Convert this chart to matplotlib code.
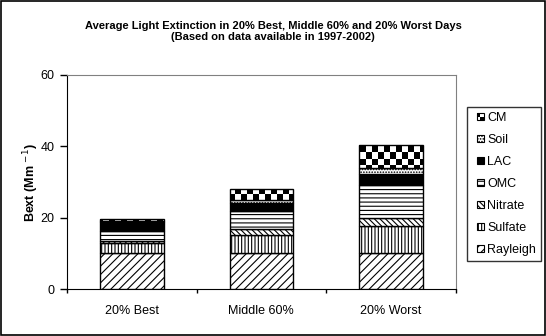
import numpy as np
import matplotlib
matplotlib.use("Agg")
import matplotlib.pyplot as plt
from matplotlib.patches import Patch, Rectangle
from matplotlib.legend_handler import HandlerBase


# ======================================
# DATA
# ======================================

categories = ["20% Best", "Middle 60%", "20% Worst"]

rayleigh = [10.3, 10.3, 10.3]
sulfate = [2.8, 4.95, 7.45]
nitrate = [0.5, 1.6, 2.25]
omc = [2.8, 5.2, 9.25]
lac = [2.5, 2.25, 3.0]
soil = [0.2, 0.75, 1.85]
cm = [0.7, 3.1, 6.25]

y_ticks = [0, 20, 40, 60]


# ======================================
# STYLE
# ======================================

plt.rcParams["font.family"] = ["Liberation Sans", "DejaVu Sans"]
plt.rcParams["hatch.linewidth"] = 0.8
plt.rcParams["hatch.color"] = "black"

# name, values, hatch, face colour (hatch None = checkerboard)
species = [
    ("Rayleigh", rayleigh, "////", "white"),
    ("Sulfate", sulfate, "|||||", "white"),
    ("Nitrate", nitrate, "\\\\\\\\\\\\", "white"),
    ("OMC", omc, "----", "white"),
    ("LAC", lac, "", "black"),
    ("Soil", soil, "......", "white"),
    ("CM", cm, None, "white"),
]


# ======================================
# PLOT
# ======================================

fig = plt.figure(figsize=(5.46, 3.36), dpi=100)
ax = fig.add_axes([0.1227, 0.139, 0.7119, 0.6378])

x = np.arange(len(categories))
bottom = np.zeros(len(categories))
cm_bars = None

for name, values, hatch, face in species:
    if hatch is None:
        cm_bars = ax.bar(x, values, width=0.49, bottom=bottom,
                         facecolor="none", edgecolor="black",
                         linewidth=1, zorder=4)
    else:
        ax.bar(x, values, width=0.49, bottom=bottom,
               facecolor=face, edgecolor="black", hatch=hatch,
               linewidth=1, zorder=3)
    bottom += np.array(values)

# checkerboard fill for CM, clipped to each bar
ny, nx = 36, 65
checker = (np.add.outer(np.arange(ny), np.arange(nx)) % 2).astype(float)
for bar in cm_bars:
    img = ax.imshow(checker, cmap="gray_r", extent=[-0.5, 2.5, 0, 60],
                    interpolation="nearest", aspect="auto", zorder=3,
                    vmin=0, vmax=1)
    img.set_clip_path(bar)

ax.set_xlim(-0.5, 2.5)
ax.set_ylim(0, 60)

ax.set_yticks(y_ticks)
ax.tick_params(axis="y", direction="out", length=5, width=1,
               labelsize=9, pad=4)

ax.set_xticks([-0.5, 0.5, 1.5, 2.5])
ax.set_xticklabels([])
ax.set_xticks(x, minor=True)
ax.set_xticklabels(categories, minor=True)
ax.tick_params(axis="x", which="major", direction="out", length=3, width=1)
ax.tick_params(axis="x", which="minor", length=0, labelsize=9, pad=11)

ax.spines["top"].set_color("#808080")
ax.spines["right"].set_color("#808080")

ax.set_ylabel(r"Bext (Mm $^{-1}$)", fontsize=9, fontweight="bold")
ax.yaxis.set_label_coords(-0.067, 0.5)

fig.text(0.5, 0.905,
         "Average Light Extinction in 20% Best, Middle 60% and 20% Worst Days\n"
         "(Based on data available in 1997-2002)",
         ha="center", va="center", fontsize=8, fontweight="bold",
         linespacing=1.12)


# ======================================
# LEGEND
# ======================================

class HandlerSquare(HandlerBase):
    # small square sitting at the right end of the handle box
    def create_artists(self, legend, orig_handle, xdescent, ydescent,
                       width, height, fontsize, trans):
        size = 7 * 72 / 100
        x0 = -xdescent + width - size
        y0 = -ydescent + (height - size) / 2
        hatch = orig_handle.get_hatch()
        face = orig_handle.get_facecolor()
        box = Rectangle((x0, y0), size, size, facecolor=face,
                        edgecolor="black", linewidth=0.8, hatch=hatch,
                        transform=trans)
        artists = [box]
        if orig_handle.get_label() == "checker":
            artists.append(Rectangle((x0, y0 + size / 2), size / 2, size / 2,
                                     facecolor="black", linewidth=0,
                                     transform=trans))
            artists.append(Rectangle((x0 + size / 2, y0), size / 2, size / 2,
                                     facecolor="black", linewidth=0,
                                     transform=trans))
        return artists


handles = []
labels = []
for name, values, hatch, face in reversed(species):
    if hatch is None:
        handles.append(Patch(facecolor="white", edgecolor="black",
                             label="checker"))
    else:
        handles.append(Patch(facecolor=face, edgecolor="black",
                             hatch=hatch))
    labels.append(name)

leg = fig.legend(handles, labels, loc="upper left",
                 bbox_to_anchor=(0.8553, 0.6815),
                 bbox_transform=fig.transFigure, borderaxespad=0,
                 fontsize=9, frameon=True, fancybox=False,
                 handlelength=0.94, handleheight=0.7, handletextpad=0.24,
                 labelspacing=0.79, borderpad=0.42,
                 handler_map={Patch: HandlerSquare()})
leg.get_frame().set_edgecolor("black")
leg.get_frame().set_linewidth(1)

# outer border of the chart
fig.patches.append(Rectangle((0.001, 0.002), 0.997, 0.996,
                             transform=fig.transFigure, fill=False,
                             edgecolor="black", linewidth=1.2))

fig.savefig("out.png", dpi=100)
